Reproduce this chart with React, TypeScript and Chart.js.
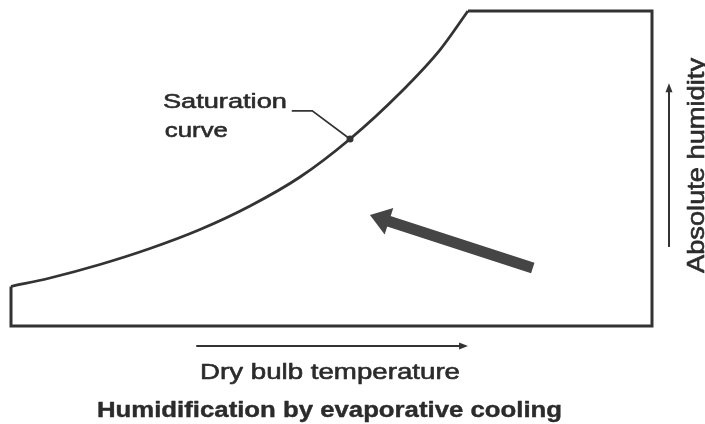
import React, { useEffect, useRef } from "react";
import { Chart, registerables } from "chart.js";

Chart.register(...registerables);

// Saturation curve: dry bulb temperature (x, relative 0–100) vs absolute humidity (y, relative 0–100)
const saturationX = [0, 6.08, 13.88, 21.68, 29.49, 37.29, 45.09, 52.89, 60.69, 66.93, 71.29];
const saturationY = [12.54, 15.24, 19.52, 24.6, 30.63, 38.1, 47.3, 59.37, 73.97, 87.68, 100];

// Chart outline (top edge, right edge, bottom edge, left edge)
const frameX = [71.29, 100, 100, 0, 0];
const frameY = [100, 100, 0, 0, 12.54];

// Leader from the "Saturation curve" label to the curve
const leaderX = [43.8, 47.0, 52.89];
const leaderY = [68.3, 68.3, 59.37];

// Process arrow (evaporative cooling): tail -> head
const processX = [81.4, 56.0];
const processY = [18.4, 35.2];

// Axis direction arrows: tail -> head
const xAxisArrowX = [28.9, 71.3];
const xAxisArrowY = [-6.35, -6.35];
const yAxisArrowX = [102.65, 102.65];
const yAxisArrowY = [25.1, 77.1];

// Text labels
const labelTexts = ["Saturation", "curve"];
const labelX = [23.7, 24.0];
const labelY = [69.2, 60.0];
const xAxisTitle = "Dry bulb temperature";
const yAxisTitle = "Absolute humidity";
const chartTitle = "Humidification by evaporative cooling";

const LINE = "#333333";
const TEXT = "#2b2b2b";
const FONT = "'Liberation Sans', Arial, Helvetica, sans-serif";

function pts(xs: number[], ys: number[]) {
  return xs.map((x, i) => ({ x, y: ys[i] }));
}

function drawText(
  ctx: CanvasRenderingContext2D,
  text: string,
  x: number,
  y: number,
  font: string,
  width: number,
  align: CanvasTextAlign,
  rotation = 0,
  stroke = 0.6
) {
  ctx.save();
  ctx.font = font;
  const natural = ctx.measureText(text).width;
  const sx = width / natural;
  ctx.translate(x, y);
  ctx.rotate(rotation);
  ctx.scale(sx, 1);
  ctx.textAlign = align;
  ctx.textBaseline = "alphabetic";
  ctx.fillStyle = TEXT;
  ctx.fillText(text, 0, 0);
  if (stroke > 0) {
    ctx.strokeStyle = TEXT;
    ctx.lineWidth = stroke;
    ctx.lineJoin = "round";
    ctx.strokeText(text, 0, 0);
  }
  ctx.restore();
}

function drawArrow(
  ctx: CanvasRenderingContext2D,
  x0: number,
  y0: number,
  x1: number,
  y1: number,
  shaft: number,
  headLen: number,
  headW: number,
  color: string
) {
  const ang = Math.atan2(y1 - y0, x1 - x0);
  const bx = x1 - Math.cos(ang) * headLen;
  const by = y1 - Math.sin(ang) * headLen;
  ctx.save();
  ctx.strokeStyle = color;
  ctx.fillStyle = color;
  ctx.lineWidth = shaft;
  ctx.lineCap = "butt";
  ctx.beginPath();
  ctx.moveTo(x0, y0);
  ctx.lineTo(bx + Math.cos(ang) * 1, by + Math.sin(ang) * 1);
  ctx.stroke();
  const px = -Math.sin(ang);
  const py = Math.cos(ang);
  ctx.beginPath();
  ctx.moveTo(x1, y1);
  ctx.lineTo(bx + (px * headW) / 2, by + (py * headW) / 2);
  ctx.lineTo(bx - (px * headW) / 2, by - (py * headW) / 2);
  ctx.closePath();
  ctx.fill();
  ctx.restore();
}

const annotations = {
  id: "annotations",
  afterDatasetsDraw(chart: any) {
    const ctx: CanvasRenderingContext2D = chart.ctx;
    const xs = chart.scales.x;
    const ys = chart.scales.y;
    const X = (v: number) => xs.getPixelForValue(v);
    const Y = (v: number) => ys.getPixelForValue(v);

    // process arrow
    drawArrow(ctx, X(processX[0]), Y(processY[0]), X(processX[1]), Y(processY[1]), 11, 20, 28, "#454545");
    // axis arrows
    drawArrow(ctx, X(xAxisArrowX[0]), Y(xAxisArrowY[0]), X(xAxisArrowX[1]), Y(xAxisArrowY[1]), 2, 9, 7, LINE);
    drawArrow(ctx, X(yAxisArrowX[0]), Y(yAxisArrowY[0]), X(yAxisArrowX[1]), Y(yAxisArrowY[1]), 2, 9, 7, LINE);

    // labels
    drawText(ctx, labelTexts[0], X(labelX[0]), Y(labelY[0]), `21px ${FONT}`, 124, "left");
    drawText(ctx, labelTexts[1], X(labelX[1]), Y(labelY[1]), `21px ${FONT}`, 63, "left");

    const ca = chart.chartArea;
    const cx = (ca.left + ca.right) / 2;
    drawText(ctx, xAxisTitle, cx - 1.5, ca.bottom + 53, `22px ${FONT}`, 260, "center");
    drawText(ctx, chartTitle, cx - 2, ca.bottom + 91, `bold 22px ${FONT}`, 465, "center", 0, 0.4);
    drawText(ctx, yAxisTitle, ca.right + 52, (ca.top + ca.bottom) / 2 - 3, `24px ${FONT}`, 215, "center", -Math.PI / 2);
  },
};

export default function App() {
  const ref = useRef<HTMLCanvasElement>(null);

  useEffect(() => {
    const prevMargin = document.body.style.margin;
    document.body.style.margin = "0";
    const chart = new Chart(ref.current as HTMLCanvasElement, {
      type: "scatter",
      data: {
        datasets: [
          {
            label: "Frame",
            data: pts(frameX, frameY),
            showLine: true,
            borderColor: LINE,
            borderWidth: 3,
            pointRadius: 0,
            tension: 0,
            clip: false as any,
            borderJoinStyle: "miter",
          },
          {
            label: "Saturation curve",
            data: pts(saturationX, saturationY),
            showLine: true,
            borderColor: LINE,
            borderWidth: 2.8,
            pointRadius: 0,
            cubicInterpolationMode: "monotone",
            clip: false as any,
          },
          {
            label: "Leader",
            data: pts(leaderX, leaderY),
            showLine: true,
            borderColor: LINE,
            borderWidth: 1.7,
            pointRadius: [0, 0, 3.5],
            pointBackgroundColor: LINE,
            pointBorderWidth: 0,
            tension: 0,
            clip: false as any,
          },
        ],
      },
      options: {
        animation: false,
        responsive: false,
        devicePixelRatio: 1,
        layout: { padding: { left: 11, right: 53, top: 11, bottom: 98 } },
        scales: {
          x: { type: "linear", min: 0, max: 100, display: false },
          y: { type: "linear", min: 0, max: 100, display: false },
        },
        plugins: {
          legend: { display: false },
          tooltip: { enabled: false },
          title: { display: false },
        },
        events: [],
      },
      plugins: [annotations],
    });
    return () => {
      chart.destroy();
      document.body.style.margin = prevMargin;
    };
  }, []);

  return (
    <div style={{ position: "absolute", left: 0, top: 0, width: 705, height: 424, background: "#fff" }}>
      <canvas ref={ref} width={705} height={424} style={{ display: "block" }} />
    </div>
  );
}
